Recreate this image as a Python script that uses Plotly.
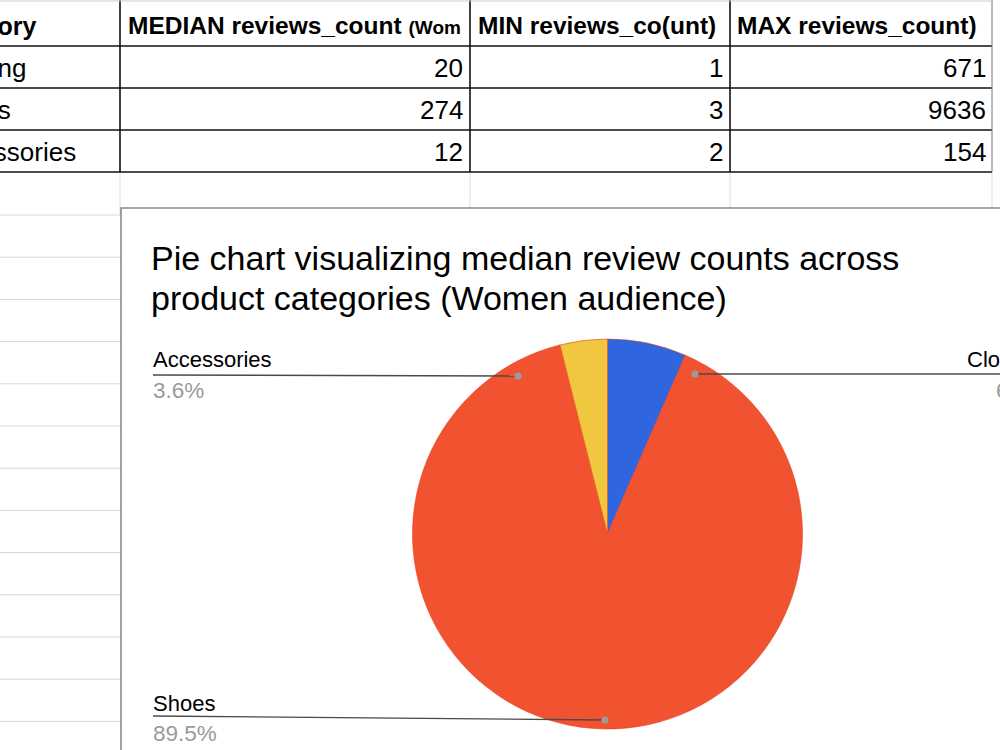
import plotly.graph_objects as go

# ---- data ----
categories = ["Clothing", "Shoes", "Accessories"]
median_reviews = [20, 274, 12]
min_reviews = [1, 3, 2]
max_reviews = [671, 9636, 154]
header_labels = ["Category", "MEDIAN reviews_count <span style='font-size:19px'>(Wom</span>",
                 "MIN reviews_co(unt)", "MAX reviews_count)"]
pct_labels = ["6.9%", "89.5%", "3.6%"]
slice_colors = ["#2f66e0", "#f15230", "#efc840"]

W, H = 1000, 750
def px(x): return x / W
def py(y): return 1 - y / H

FONT = "Liberation Sans, Arial, sans-serif"

fig = go.Figure()
fig.add_trace(go.Pie(
    labels=categories, values=median_reviews, sort=False, direction="clockwise",
    rotation=0, marker=dict(colors=slice_colors, line=dict(color="#e8431f", width=0.6)),
    textinfo="none", showlegend=False, hoverinfo="label+value+percent",
    domain=dict(x=[px(412.5), px(802.5)], y=[py(729), py(339)]),
))

shapes = []
ann = []

# spreadsheet grid below table (light)
for y in [215 + 42.2 * k for k in range(13)]:
    shapes.append(dict(type="line", xref="paper", yref="paper", x0=0, x1=px(121), y0=py(y), y1=py(y),
                       line=dict(color="#d6d6d6", width=1), layer="below"))
for x in [120, 470, 730, 992]:
    shapes.append(dict(type="line", xref="paper", yref="paper", x0=px(x), x1=px(x), y0=py(172), y1=py(215),
                       line=dict(color="#dcdcdc", width=1), layer="below"))
# table borders
for y in [46, 88, 130, 172]:
    shapes.append(dict(type="line", xref="paper", yref="paper", x0=0, x1=px(992), y0=py(y), y1=py(y),
                       line=dict(color="#111", width=1.6), layer="below"))
for x in [120, 470, 730]:
    shapes.append(dict(type="line", xref="paper", yref="paper", x0=px(x), x1=px(x), y0=py(0), y1=py(172),
                       line=dict(color="#111", width=1.6), layer="below"))
shapes.append(dict(type="line", xref="paper", yref="paper", x0=px(992), x1=px(992), y0=py(0), y1=py(172),
                   line=dict(color="#777", width=1), layer="below"))
shapes.append(dict(type="line", xref="paper", yref="paper", x0=0, x1=px(992), y0=py(1), y1=py(1),
                   line=dict(color="#cccccc", width=1), layer="below"))

# chart box
shapes.append(dict(type="rect", xref="paper", yref="paper", x0=px(121), x1=px(1010), y0=py(208), y1=py(760),
                   fillcolor="white", line=dict(color="#8a8a8a", width=1.6), layer="below"))

# table text
col_left = [None, 126, 476, 735]
ann.append(dict(x=px(38), y=py(26), text="<b>" + header_labels[0] + "</b>", xanchor="right", font_size=25))
for i in range(1, 4):
    ann.append(dict(x=px(col_left[i]), y=py(26), text="<b>" + header_labels[i] + "</b>", xanchor="left",
                    font_size=24.5))
cat_right = [28, 13, 78]
row_y = [68, 110, 152]
for r in range(3):
    ann.append(dict(x=px(cat_right[r]), y=py(row_y[r]), text=categories[r], xanchor="right", font_size=26))
    ann.append(dict(x=px(465), y=py(row_y[r]), text=str(median_reviews[r]), xanchor="right", font_size=26))
    ann.append(dict(x=px(725), y=py(row_y[r]), text=str(min_reviews[r]), xanchor="right", font_size=26))
    ann.append(dict(x=px(988), y=py(row_y[r]), text=str(max_reviews[r]), xanchor="right", font_size=26))

# title
ann.append(dict(x=px(149), y=py(258), text="Pie chart visualizing median review counts across",
                xanchor="left", font_size=34))
ann.append(dict(x=px(149), y=py(298), text="product categories (Women audience)",
                xanchor="left", font_size=34))

# pie labels
label_pos = {  # label x, name y, pct x, pct y, line (x0,y0,x1,y1)
    "Clothing": (965, 359, 994, 390, (695, 374, 1005, 374)),
    "Shoes": (151, 703, 151, 733, (153, 716, 605, 720)),
    "Accessories": (151, 359, 151, 390, (153, 375, 518, 376)),
}
for i, c in enumerate(categories):
    lx, ly, ppx, ppy, (x0, y0, x1, y1) = label_pos[c]
    ann.append(dict(x=px(lx), y=py(ly), text=c, xanchor="left", font_size=22))
    ann.append(dict(x=px(ppx), y=py(ppy), text=pct_labels[i], xanchor="left", font_size=22.5,
                    font_color="#9a9a9a"))
    shapes.append(dict(type="line", xref="paper", yref="paper", x0=px(x0), x1=px(x1), y0=py(y0), y1=py(y1),
                       line=dict(color="#4a4a4a", width=1.4), layer="above"))
    dx = x0 if c == "Clothing" else x1
    dy = y0 if c == "Clothing" else y1
    shapes.append(dict(type="circle", xref="paper", yref="paper", x0=px(dx - 3.5), x1=px(dx + 3.5),
                       y0=py(dy + 3.5), y1=py(dy - 3.5), fillcolor="#9c9c9c", line=dict(width=0),
                       layer="above"))

for a in ann:
    a.setdefault("xref", "paper")
    a.setdefault("yref", "paper")
    a.setdefault("yanchor", "middle")
    a.setdefault("showarrow", False)
    f = dict(family=FONT, color=a.pop("font_color", "#000000"), size=a.pop("font_size", 23))
    a["font"] = f

fig.update_layout(
    width=W, height=H, margin=dict(l=0, r=0, t=0, b=0),
    paper_bgcolor="white", plot_bgcolor="white",
    shapes=shapes, annotations=ann,
)
fig.write_html("out.html")
